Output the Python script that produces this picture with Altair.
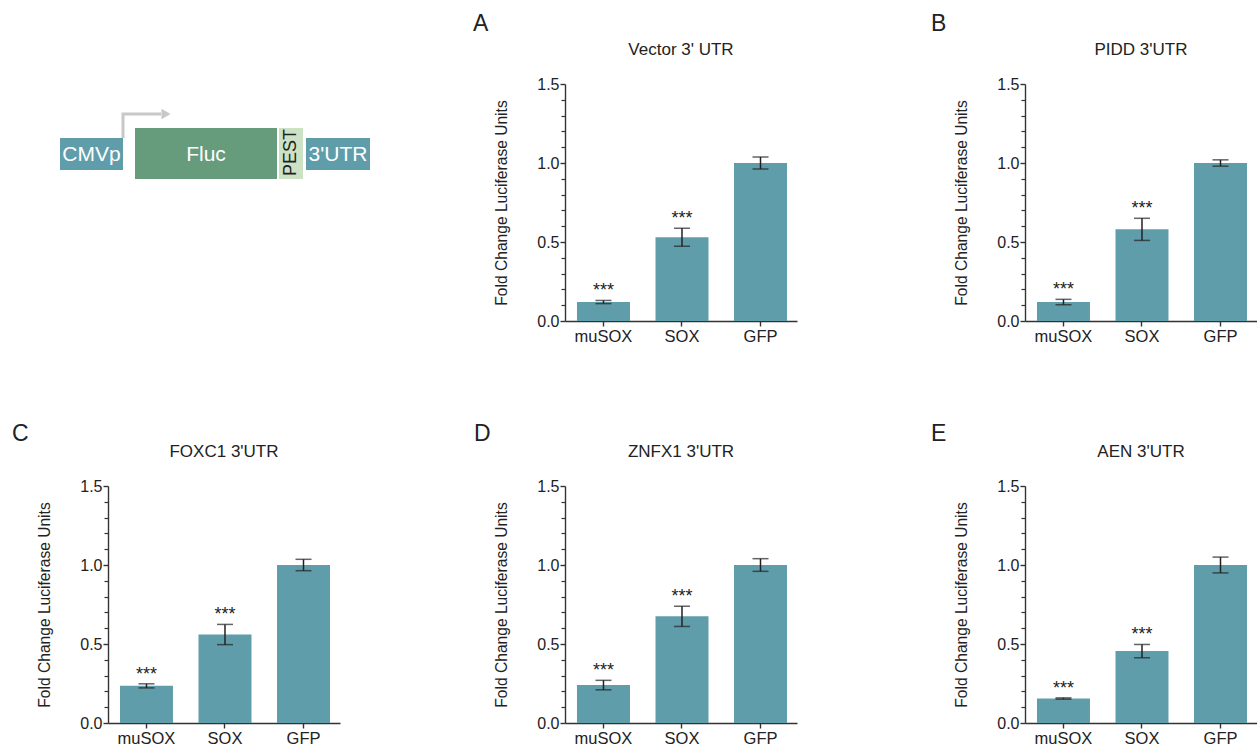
import altair as alt
import pandas as pd

FONT = "Liberation Sans"
TEAL = "#609dab"
INK = "#222222"

categories = ["muSOX", "SOX", "GFP"]
significance = ["***", "***", ""]

vector_mean = [0.12, 0.53, 1.0]
vector_err = [0.01, 0.057, 0.038]
pidd_mean = [0.12, 0.58, 1.0]
pidd_err = [0.017, 0.07, 0.02]
foxc1_mean = [0.235, 0.56, 1.0]
foxc1_err = [0.013, 0.064, 0.036]
znfx1_mean = [0.24, 0.675, 1.0]
znfx1_err = [0.03, 0.064, 0.04]
aen_mean = [0.155, 0.455, 1.0]
aen_err = [0.004, 0.042, 0.05]

major_ticks = [0.0, 0.5, 1.0, 1.5]
minor_ticks = [0.1, 0.2, 0.3, 0.4, 0.6, 0.7, 0.8, 0.9, 1.1, 1.2, 1.3, 1.4]

# construct diagram (schematic units)
box_names = ["CMVp", "Fluc", "PEST", "3'UTR"]
box_x0 = [-48, 27, 171, 198]
box_x1 = [15, 169, 195, 262]
box_y0 = [54, 44, 44, 54]
box_y1 = [86, 95, 95, 86]
box_fill = [TEAL, "#669b7b", "#cde2c4", TEAL]
arrow_x = [15, 15, 53]
arrow_y = [54, 30, 30]
arrow_head_x = [58]

PW, PH = 232, 237


def panel(letter, title, means, errs, lx, ly):
    df = pd.DataFrame({
        "cat": categories,
        "mean": means,
        "lo": [m - e for m, e in zip(means, errs)],
        "hi": [m + e for m, e in zip(means, errs)],
        "sig": significance,
    })
    base = alt.Chart(df)
    yscale = alt.Scale(domain=[0, 1.5], nice=False, zero=True)
    x = alt.X("cat:N", sort=categories,
              scale=alt.Scale(paddingInner=0.325, paddingOuter=0.14, align=0.545),
              axis=alt.Axis(title=None, labelAngle=0, labelFontSize=16.5, tickSize=5,
                            labelPadding=2, labelColor=INK, domainColor="#333",
                            tickColor="#333", domainWidth=1.4, tickWidth=1.4))
    bars = base.mark_bar(color=TEAL).encode(
        x=x,
        y=alt.Y("mean:Q", scale=yscale,
                axis=alt.Axis(values=major_ticks, format=".1f", orient="left",
                              title="Fold Change Luciferase Units", titleFontSize=15.6,
                              titleFontWeight="normal", titleColor=INK, titlePadding=27,
                              labelFontSize=16, labelColor=INK, labelPadding=1,
                              tickSize=5, grid=False, domainColor="#333", tickColor="#333",
                              domainWidth=1.4, tickWidth=1.4)),
    )
    stem = base.mark_rule(color=INK, strokeWidth=1.5).encode(
        x=alt.X("cat:N", sort=categories),
        y=alt.Y("lo:Q", scale=yscale,
                axis=alt.Axis(values=minor_ticks, labels=False, domain=False, title=None,
                              orient="left", tickSize=4, grid=False, tickColor="#333",
                              tickWidth=1.2)),
        y2="hi:Q",
    )
    cap_lo = base.mark_tick(color=INK, size=16, thickness=1.5).encode(
        x=alt.X("cat:N", sort=categories), y=alt.Y("lo:Q", scale=yscale, axis=None))
    cap_hi = base.mark_tick(color=INK, size=16, thickness=1.5).encode(
        x=alt.X("cat:N", sort=categories), y=alt.Y("hi:Q", scale=yscale, axis=None))
    stars = base.mark_text(font=FONT, fontSize=18, color=INK, baseline="alphabetic", dy=-4).encode(
        x=alt.X("cat:N", sort=categories), y=alt.Y("hi:Q", scale=yscale, axis=None),
        text="sig:N")
    tdf = pd.DataFrame({"l": [letter], "t": [title]})
    lab = alt.Chart(tdf).mark_text(
        font=FONT, fontSize=23, color=INK, align="left", baseline="top").encode(
        x=alt.value(lx), y=alt.value(ly), text="l:N")
    ttl = alt.Chart(tdf).mark_text(
        font=FONT, fontSize=17, color=INK, align="center", baseline="middle").encode(
        x=alt.value(PW / 2), y=alt.value(-34), text="t:N")
    return alt.layer(bars, stem, cap_lo, cap_hi, stars, lab, ttl).resolve_axis(
        y="independent").properties(width=PW, height=PH)


# diagram
bdf = pd.DataFrame({"name": box_names, "x0": box_x0, "x1": box_x1, "y0": box_y0,
                    "y1": box_y1, "fill": box_fill})
bdf["cx"] = (bdf.x0 + bdf.x1) / 2
bdf["cy"] = (bdf.y0 + bdf.y1) / 2
dx = alt.Scale(domain=[0, PW], nice=False, zero=False)
dy = alt.Scale(domain=[0, PH], nice=False, zero=False, reverse=True)
boxes = alt.Chart(bdf).mark_rect().encode(
    x=alt.X("x0:Q", scale=dx, axis=None), x2="x1:Q",
    y=alt.Y("y0:Q", scale=dy, axis=None), y2="y1:Q",
    fill=alt.Fill("fill:N", scale=None))
white_labels = alt.Chart(bdf[bdf.name != "PEST"]).mark_text(
    font=FONT, fontSize=21, color="white", baseline="middle", align="center", dy=1).encode(
    x=alt.X("cx:Q", scale=dx, axis=None), y=alt.Y("cy:Q", scale=dy, axis=None), text="name:N")
pest_label = alt.Chart(bdf[bdf.name == "PEST"]).mark_text(
    font=FONT, fontSize=18, color=INK, baseline="middle", align="center", angle=270, dx=1).encode(
    x=alt.X("cx:Q", scale=dx, axis=None), y=alt.Y("cy:Q", scale=dy, axis=None), text="name:N")
adf = pd.DataFrame({"x": arrow_x, "y": arrow_y, "o": [0, 1, 2]})
arrow = alt.Chart(adf).mark_line(color="#c8c8c8", strokeWidth=3).encode(
    x=alt.X("x:Q", scale=dx, axis=None), y=alt.Y("y:Q", scale=dy, axis=None), order="o:Q")
hdf = pd.DataFrame({"x": arrow_head_x, "y": [arrow_y[-1]]})
head = alt.Chart(hdf).mark_point(shape="triangle-right", filled=True, color="#c8c8c8",
                                 size=110, opacity=1).encode(
    x=alt.X("x:Q", scale=dx, axis=None), y=alt.Y("y:Q", scale=dy, axis=None))
diagram = alt.layer(boxes, arrow, head, white_labels, pest_label).properties(width=PW, height=PH)

pA = panel("A", "Vector 3' UTR", vector_mean, vector_err, -92, -71)
pB = panel("B", "PIDD 3'UTR", pidd_mean, pidd_err, -94, -71)
pC = panel("C", "FOXC1 3'UTR", foxc1_mean, foxc1_err, -96, -63)
pD = panel("D", "ZNFX1 3'UTR", znfx1_mean, znfx1_err, -91, -63)
pE = panel("E", "AEN 3'UTR", aen_mean, aen_err, -94, -63)

row1 = alt.hconcat(diagram, alt.hconcat(pA, pB, spacing=134), spacing=103)
row2 = alt.hconcat(pC, pD, pE, spacing=134)

chart = alt.vconcat(row1, row2, spacing=78).properties(
    padding={"left": 12, "top": 13, "right": 0, "bottom": 0}
).configure(font=FONT).configure_view(stroke=None)

chart.save("out.html", embed_options={"renderer": "svg", "actions": False})
